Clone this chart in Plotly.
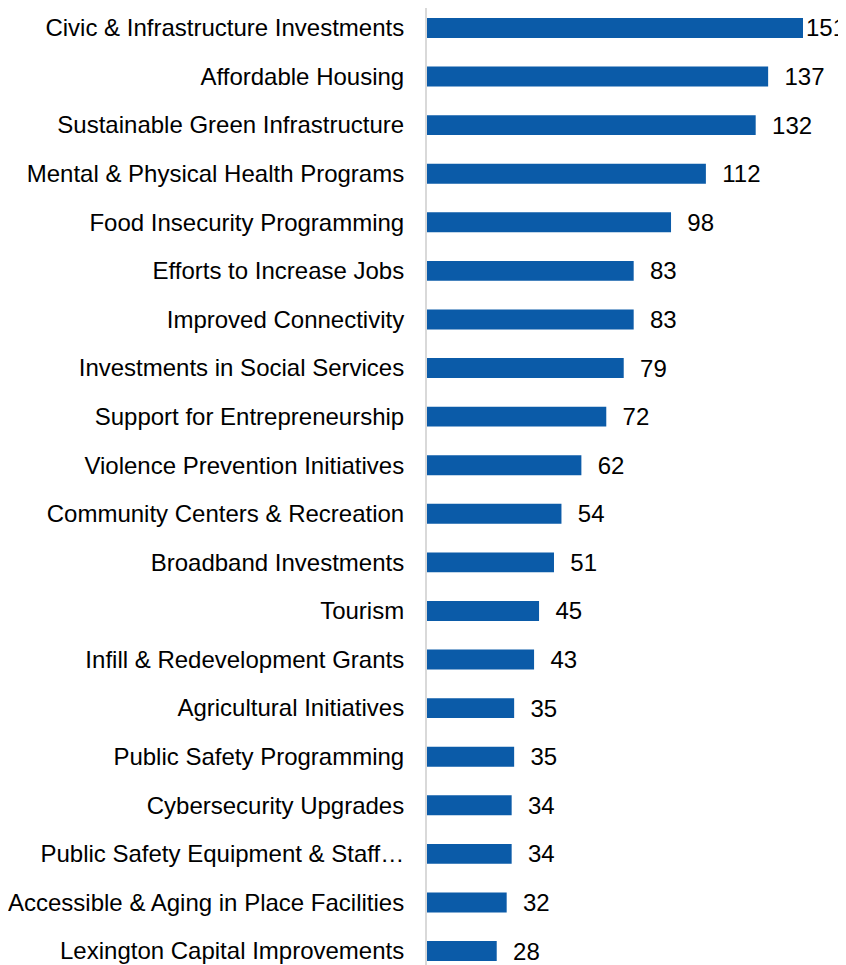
import plotly.graph_objects as go

# ── Data (top to bottom as shown) ────────────────────────────────────────
categories = [
    "Civic & Infrastructure Investments",
    "Affordable Housing",
    "Sustainable Green Infrastructure",
    "Mental & Physical Health Programs",
    "Food Insecurity Programming",
    "Efforts to Increase Jobs",
    "Improved Connectivity",
    "Investments in Social Services",
    "Support for Entrepreneurship",
    "Violence Prevention Initiatives",
    "Community Centers & Recreation",
    "Broadband Investments",
    "Tourism",
    "Infill & Redevelopment Grants",
    "Agricultural Initiatives",
    "Public Safety Programming",
    "Cybersecurity Upgrades",
    "Public Safety Equipment & Staff…",
    "Accessible & Aging in Place Facilities",
    "Lexington Capital Improvements",
]
counts = [151, 137, 132, 112, 98, 83, 83, 79, 72, 62,
          54, 51, 45, 43, 35, 35, 34, 34, 32, 28]

BAR_BLUE = "#0B5BA8"
FONT = "Liberation Sans, Arial, sans-serif"

# plot bottom-up so the first category sits at the top
cats = categories[::-1]
vals = counts[::-1]
top = max(counts)
labels = [(str(v) if v == top else "  " + str(v)) for v in vals]

fig = go.Figure(go.Bar(
    x=vals, y=cats, orientation="h",
    marker=dict(color=BAR_BLUE, line=dict(width=0)),
    text=labels, textposition="outside", cliponaxis=False,
    constraintext="none",
    textfont=dict(family=FONT, size=24, color="#000000"),
    hoverinfo="x+y",
))

# the page body offsets the figure by 8px; margins allow for that
n = len(cats)
fig.update_layout(
    width=846, height=965,
    margin=dict(l=419, r=51, t=0, b=8),
    plot_bgcolor="white", paper_bgcolor="white",
    bargap=0.59,
    showlegend=False,
    font=dict(family=FONT, size=24, color="#000000"),
)
fig.update_xaxes(range=[0, top], visible=False)
fig.update_yaxes(
    range=[-0.288, n - 1 + 0.41],
    showline=True, linecolor="#d9d9d9", linewidth=2,
    ticks="outside", ticklen=16, tickcolor="rgba(0,0,0,0)",
    showgrid=False, zeroline=False, automargin=False,
    tickfont=dict(family=FONT, size=24, color="#000000"),
)

fig.write_html("out.html")
